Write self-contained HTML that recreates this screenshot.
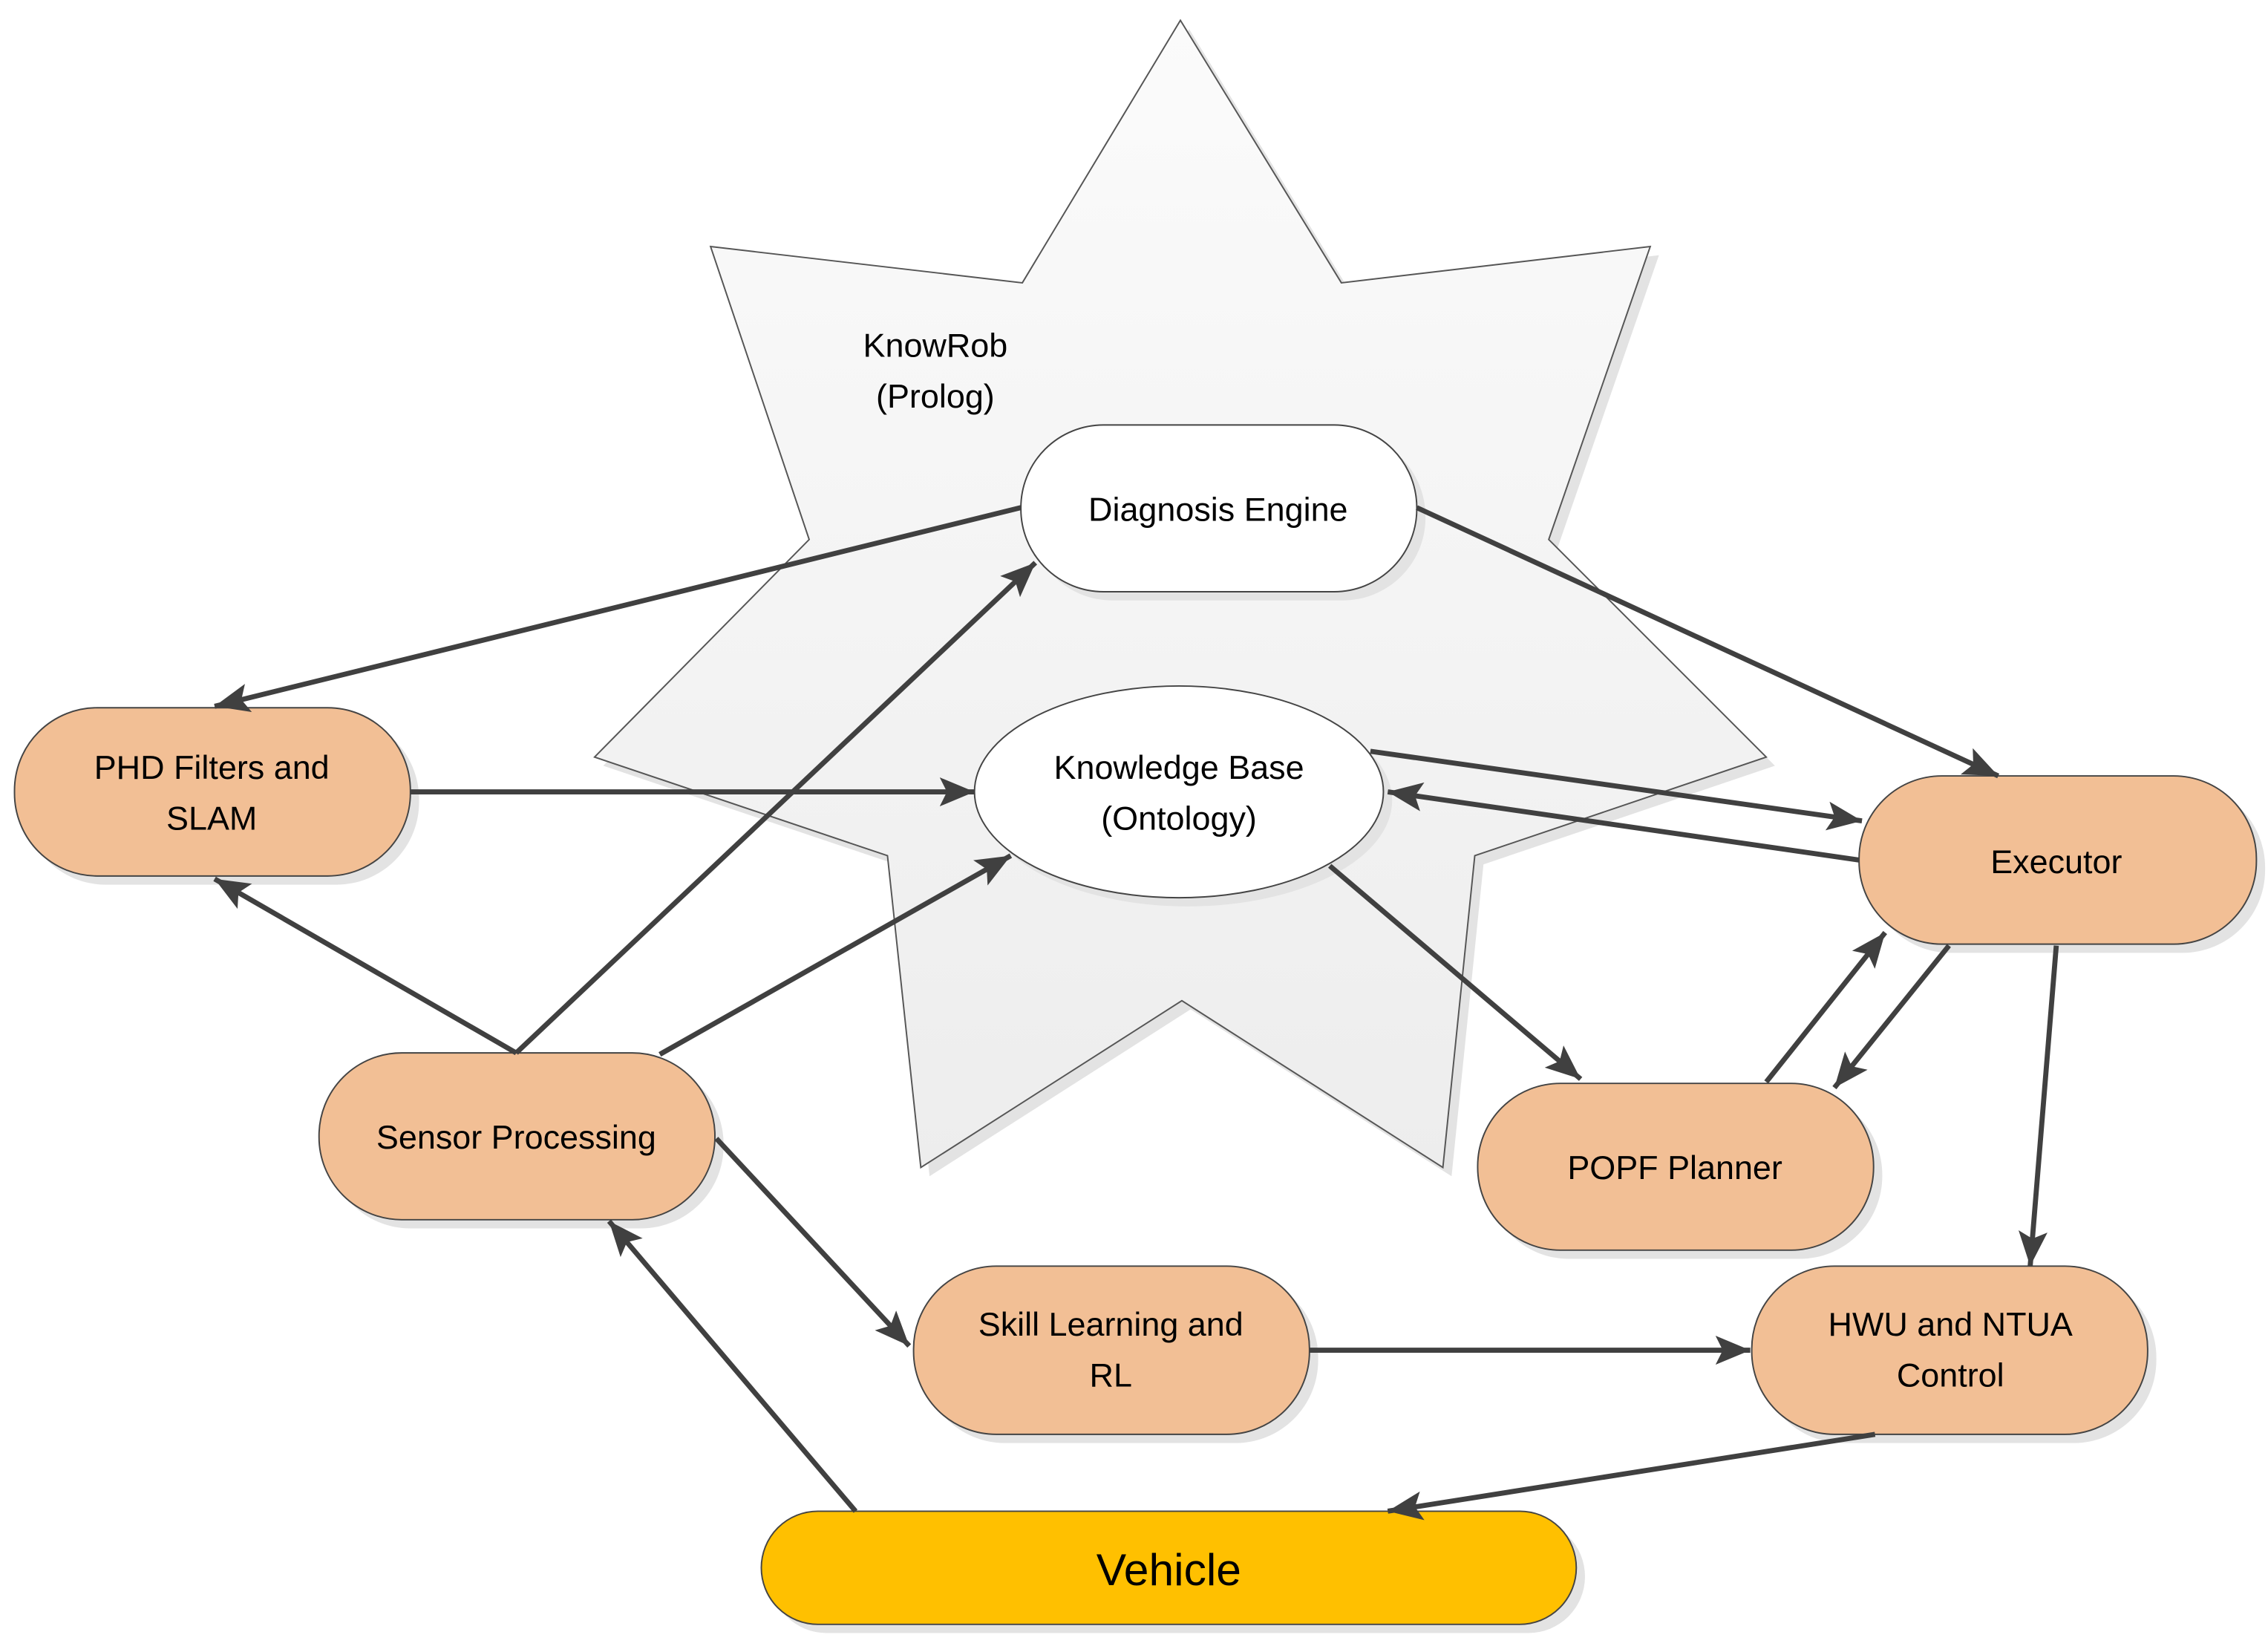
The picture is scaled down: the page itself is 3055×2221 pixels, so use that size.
<!DOCTYPE html>
<html><head><meta charset="utf-8"><style>
html,body{margin:0;padding:0;background:#fff;}
svg{display:block;}
text{font-family:"Liberation Sans",sans-serif;fill:#000;}
</style></head><body>
<svg width="3055" height="2221" viewBox="0 0 1564 1137" preserveAspectRatio="none" xmlns="http://www.w3.org/2000/svg">
<defs>
<linearGradient id="g" x1="0" y1="0" x2="0" y2="1"><stop offset="0" stop-color="#fbfbfb"/><stop offset="1" stop-color="#ededed"/></linearGradient>
<marker id="a" markerUnits="userSpaceOnUse" markerWidth="26" markerHeight="22" refX="24" refY="10" orient="auto"><path d="M0,0 L24,10 L0,20 L5,10 Z" fill="#404040"/></marker>
</defs>
<g transform="translate(6,6)" fill="#e3e3e3">
<polygon points="814,14 925,195 1138,170 1068,372 1218,522 1017,590 995,805 815,690 635,805 612,590 410,522 558,372 490,170 705,195"/>
</g>
<polygon points="814,14 925,195 1138,170 1068,372 1218,522 1017,590 995,805 815,690 635,805 612,590 410,522 558,372 490,170 705,195" fill="url(#g)" stroke="#555" stroke-width="1"/>
<text x="645" y="246" font-size="23" text-anchor="middle">KnowRob</text>
<text x="645" y="281" font-size="23" text-anchor="middle">(Prolog)</text>

<g fill="#e3e3e3">
<rect x="710" y="299" width="273" height="115" rx="57"/>
<ellipse cx="819" cy="552" rx="141" ry="73"/>
<rect x="16" y="494" width="273" height="116" rx="57"/>
<rect x="1288" y="541" width="274" height="116" rx="57"/>
<rect x="226" y="732" width="273" height="115" rx="57"/>
<rect x="1025" y="753" width="273" height="115" rx="57"/>
<rect x="636" y="879" width="273" height="116" rx="57"/>
<rect x="1214" y="879" width="273" height="116" rx="57"/>
<rect x="531" y="1048" width="562" height="78" rx="39"/>
</g>
<g stroke="#444" stroke-width="1">
<rect x="704" y="293" width="273" height="115" rx="57" fill="#fff"/>
<ellipse cx="813" cy="546" rx="141" ry="73" fill="#fff"/>
<rect x="10" y="488" width="273" height="116" rx="57" fill="#f2bf95"/>
<rect x="1282" y="535" width="274" height="116" rx="57" fill="#f2bf95"/>
<rect x="220" y="726" width="273" height="115" rx="57" fill="#f2bf95"/>
<rect x="1019" y="747" width="273" height="115" rx="57" fill="#f2bf95"/>
<rect x="630" y="873" width="273" height="116" rx="57" fill="#f2bf95"/>
<rect x="1208" y="873" width="273" height="116" rx="57" fill="#f2bf95"/>
<rect x="525" y="1042" width="562" height="78" rx="39" fill="#ffc000"/>
</g>

<g font-size="23" text-anchor="middle">
<text x="840" y="359">Diagnosis Engine</text>
<text x="813" y="537">Knowledge Base</text>
<text x="813" y="572">(Ontology)</text>
<text x="146" y="537">PHD Filters and</text>
<text x="146" y="572">SLAM</text>
<text x="1418" y="602">Executor</text>
<text x="356" y="792">Sensor Processing</text>
<text x="1155" y="813">POPF Planner</text>
<text x="766" y="921">Skill Learning and</text>
<text x="766" y="956">RL</text>
<text x="1345" y="921">HWU and NTUA</text>
<text x="1345" y="956">Control</text>
<text x="806" y="1093" font-size="31">Vehicle</text>
</g>

<g stroke="#404040" stroke-width="3.5" fill="none" marker-end="url(#a)">
<line x1="704" y1="350" x2="148" y2="487"/>
<line x1="977" y1="350" x2="1378" y2="535"/>
<line x1="283" y1="546" x2="672" y2="546"/>
<line x1="945" y1="518" x2="1284" y2="566"/>
<line x1="1282" y1="593" x2="957" y2="546"/>
<line x1="917" y1="597" x2="1090" y2="744"/>
<line x1="1218" y1="746" x2="1300" y2="643"/>
<line x1="1344" y1="652" x2="1265" y2="750"/>
<line x1="1418" y1="652" x2="1400" y2="873"/>
<line x1="356" y1="726" x2="714" y2="388"/>
<line x1="455" y1="727" x2="697" y2="590"/>
<line x1="356" y1="726" x2="148" y2="606"/>
<line x1="494" y1="785" x2="627" y2="928"/>
<line x1="903" y1="931" x2="1207" y2="931"/>
<line x1="1293" y1="989" x2="957" y2="1042"/>
<line x1="590" y1="1042" x2="420" y2="842"/>
</g>
</svg>
</body></html>
